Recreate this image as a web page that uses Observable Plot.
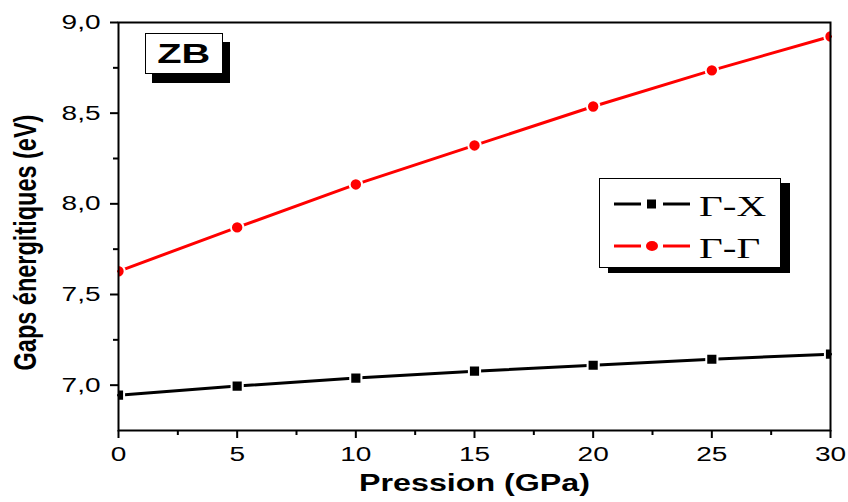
<!DOCTYPE html>
<html>
<head>
<meta charset="utf-8">
<script src="https://cdn.jsdelivr.net/npm/d3@7"></script>
<script src="https://cdn.jsdelivr.net/npm/@observablehq/plot@0.6"></script>
<style>
  html, body { margin: 0; padding: 0; background: #fff; }
  #wrap { position: relative; width: 848px; height: 502px; font-family: "Liberation Sans", Arial, sans-serif; }
  .box { position: absolute; background: #fff; border: 1px solid #000; box-sizing: border-box; }
  .shadow { position: absolute; background: #000; }
</style>
</head>
<body>
<div id="wrap"></div>
<script>
const pressure = [0, 5, 10, 15, 20, 25, 30];
const gapGX = [6.945, 6.995, 7.039, 7.077, 7.110, 7.143, 7.171];
const gapGG = [7.628, 7.870, 8.107, 8.322, 8.537, 8.736, 8.923];
const seriesNames = ["Γ-X", "Γ-Γ"];
const seriesColors = ["#000000", "#ff0000"];
const xTicks = [0, 5, 10, 15, 20, 25, 30];
const xMinor = [2.5, 7.5, 12.5, 17.5, 22.5, 27.5];
const yTicks = [7.0, 7.5, 8.0, 8.5, 9.0];
const yMinor = [7.25, 7.75, 8.25, 8.75];
const xLabel = "Pression (GPa)";
const yLabel = "Gaps énergitiques (eV)";
const panelLabel = "ZB";

const STRETCH = 1.37;

const rows = [];
pressure.forEach((p, i) => {
  rows.push({p, v: gapGX[i], s: seriesNames[0]});
  rows.push({p, v: gapGG[i], s: seriesNames[1]});
});

const fmt = d => d3.format(".1f")(d).replace(".", ",");
const xFmt = d => String(d);

const chart = Plot.plot({
  width: 848,
  height: 502,
  marginLeft: 118,
  marginRight: 18,
  marginTop: 22,
  marginBottom: 72,
  style: {fontFamily: "'Liberation Sans', Arial, sans-serif", background: "#fff", color: "#000"},
  x: {domain: [0, 30]},
  y: {domain: [6.75, 9.0]},
  color: {domain: seriesNames, range: seriesColors},
  marks: [
    Plot.line(rows, {x: "p", y: "v", z: "s", stroke: "s", strokeWidth: 3}),
    Plot.dot(rows.filter(d => d.s === seriesNames[0]), {x: "p", y: "v", symbol: "square", r: 6.3, fill: "#000", stroke: "#fff", strokeWidth: 2, clip: true}),
    Plot.dot(rows.filter(d => d.s === seriesNames[1]), {x: "p", y: "v", symbol: "circle", r: 6.2, fill: "#ff0000", stroke: "#fff", strokeWidth: 2, clip: true}),
    Plot.frame({stroke: "#000", strokeWidth: 2}),
    Plot.axisX({ticks: xTicks, tickFormat: xFmt, tickSize: 8, tickPadding: 8, strokeWidth: 2, fontSize: 20, label: null}),
    Plot.axisX({ticks: xMinor, tickFormat: () => "", tickSize: 5, strokeWidth: 2, label: null}),
    Plot.axisY({ticks: yTicks, tickFormat: fmt, tickSize: 8, tickPadding: 10, strokeWidth: 2, fontSize: 20, label: null}),
    Plot.axisY({ticks: yMinor, tickFormat: () => "", tickSize: 5, strokeWidth: 2, label: null}),
    Plot.text([xLabel], {frameAnchor: "bottom", dy: 60, text: d => d, fontSize: 23.5, fontWeight: "bold"}),
    Plot.text([yLabel], {frameAnchor: "left", dx: -93, dy: 16, rotate: -90, textAnchor: "middle", text: d => d, fontSize: 23.5, fontWeight: "bold"})
  ]
});

const wrap = document.getElementById("wrap");
wrap.appendChild(chart);

function stretchText(el, f) {
  const len = el.getComputedTextLength();
  el.setAttribute("textLength", len * f);
  el.setAttribute("lengthAdjust", "spacingAndGlyphs");
}
const tickStrings = new Set([...xTicks.map(xFmt), ...yTicks.map(fmt)]);
chart.querySelectorAll("text").forEach(t => {
  const s = t.textContent;
  if (tickStrings.has(s)) {
    t.style.fontSize = "20px";
    stretchText(t, 1.4);
  } else if (s === xLabel) {
    stretchText(t, STRETCH);
  } else if (s === yLabel) {
    const tr = t.getAttribute("transform") || "";
    t.setAttribute("transform", tr + ` scale(1,${STRETCH})`);
  }
});

function addBox(left, top, w, h, ox, oy) {
  const sh = document.createElement("div");
  sh.className = "shadow";
  Object.assign(sh.style, {left: (left + ox) + "px", top: (top + oy) + "px", width: w + "px", height: h + "px"});
  wrap.appendChild(sh);
  const b = document.createElement("div");
  b.className = "box";
  Object.assign(b.style, {left: left + "px", top: top + "px", width: w + "px", height: h + "px"});
  wrap.appendChild(b);
  return b;
}

// ZB label box
const zb = addBox(145, 33, 78, 41, 7, 9);
zb.style.display = "flex";
zb.style.alignItems = "center";
zb.style.justifyContent = "center";
const zbs = document.createElement("span");
zbs.style.font = "bold 28px 'Liberation Sans', Arial, sans-serif";
zbs.style.display = "inline-block";
zbs.style.transform = "scaleX(1.42)";
zbs.textContent = panelLabel;
zb.appendChild(zbs);

// Legend box
const lg = addBox(599, 178, 182, 90, 9, 5);
const ns = "http://www.w3.org/2000/svg";
const lsvg = document.createElementNS(ns, "svg");
lsvg.setAttribute("width", 180);
lsvg.setAttribute("height", 88);
lsvg.style.position = "absolute";
lsvg.style.left = "0px";
lsvg.style.top = "0px";
lg.appendChild(lsvg);
seriesNames.forEach((name, i) => {
  const cy = 25 + i * 42;
  const col = seriesColors[i];
  [[14, 41], [63, 90]].forEach(([a, b]) => {
    const l = document.createElementNS(ns, "line");
    l.setAttribute("x1", a); l.setAttribute("x2", b);
    l.setAttribute("y1", cy); l.setAttribute("y2", cy);
    l.setAttribute("stroke", col); l.setAttribute("stroke-width", 3);
    lsvg.appendChild(l);
  });
  let m;
  if (i === 0) {
    m = document.createElementNS(ns, "rect");
    m.setAttribute("x", 47); m.setAttribute("y", cy - 4.5);
    m.setAttribute("width", 9); m.setAttribute("height", 9);
  } else {
    m = document.createElementNS(ns, "ellipse");
    m.setAttribute("cx", 52); m.setAttribute("cy", cy); m.setAttribute("rx", 6); m.setAttribute("ry", 5);
  }
  m.setAttribute("fill", col);
  lsvg.appendChild(m);
  const t = document.createElementNS(ns, "text");
  t.setAttribute("x", 99); t.setAttribute("y", cy + 12);
  t.setAttribute("font-family", "'Liberation Serif', 'Times New Roman', serif");
  t.setAttribute("font-size", 30);
  t.textContent = name;
  lsvg.appendChild(t);
  stretchText(t, STRETCH);
});
</script>
</body>
</html>
